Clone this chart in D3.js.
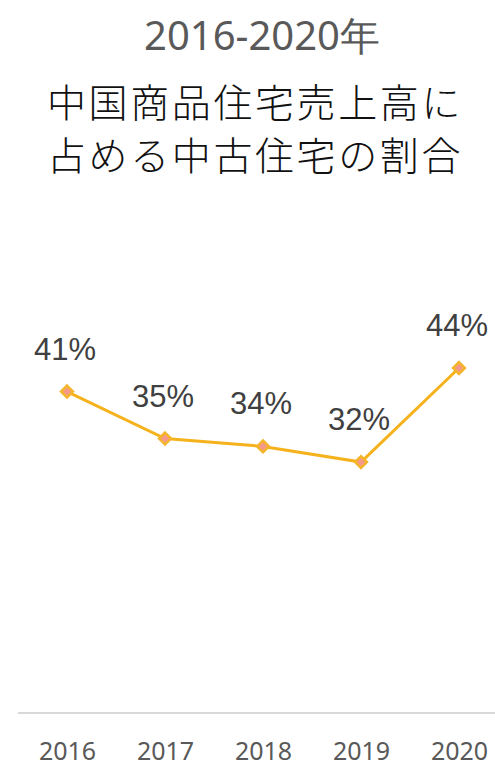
<!DOCTYPE html>
<html>
<head>
<meta charset="utf-8">
<script src="https://cdn.jsdelivr.net/npm/d3@7"></script>
<style>
  html, body { margin: 0; padding: 0; background: #fff; }
  svg { display: block; }
</style>
</head>
<body>
<div id="chart"></div>
<script>
// data
var years = ['2016', '2017', '2018', '2019', '2020'];
var shares = [41, 35, 34, 32, 44];
var subtitle = '2016-2020年';
var titleLines = ['中国商品住宅売上高に', '占める中古住宅の割合'];

var WIDTH = 495, HEIGHT = 769;

var svg = d3.select('#chart').append('svg')
    .attr('width', WIDTH)
    .attr('height', HEIGHT);

// titles
svg.append('text')
    .attr('x', 262).attr('y', 50)
    .attr('text-anchor', 'middle')
    .style('font-family', '"Noto Sans", "Open Sans", sans-serif')
    .style('font-size', '40px')
    .style('fill', '#595959')
    .text(subtitle);

svg.selectAll('text.title')
    .data(titleLines).enter()
    .append('text')
    .attr('class', 'title')
    .attr('x', 255)
    .attr('y', function(d, i) { return 117 + i * 53; })
    .attr('text-anchor', 'middle')
    .style('font-family', '"Noto Sans CJK JP", "Noto Sans CJK SC", sans-serif')
    .style('font-weight', 300)
    .style('font-size', '39px')
    .style('letter-spacing', '2.6px')
    .style('fill', '#111')
    .text(function(d) { return d; });

// scales
var x = d3.scalePoint()
    .domain(years)
    .range([67, 459]);

var y = d3.scaleLinear()
    .domain([0, 44])
    .range([713, 368]);

// x axis
var xAxis = svg.append('g')
    .attr('transform', 'translate(0,713)')
    .call(d3.axisBottom(x).tickSize(0).tickPadding(29));

xAxis.select('.domain').remove();
xAxis.append('line')
    .attr('x1', 18).attr('x2', WIDTH)
    .attr('y1', 0).attr('y2', 0)
    .attr('stroke', '#d9d9d9')
    .attr('stroke-width', 2);
xAxis.selectAll('text')
    .style('font-family', '"Noto Sans", "Open Sans", sans-serif')
    .style('font-size', '25px')
    .style('fill', '#595959');

// line
var line = d3.line()
    .x(function(d, i) { return x(years[i]); })
    .y(function(d) { return y(d); });

svg.append('path')
    .datum(shares)
    .attr('d', line)
    .attr('fill', 'none')
    .attr('stroke', '#f5b21c')
    .attr('stroke-width', 3);

// diamond markers
svg.selectAll('path.marker')
    .data(shares).enter()
    .append('path')
    .attr('class', 'marker')
    .attr('d', d3.symbol().type(d3.symbolDiamond2).size(90))
    .attr('transform', function(d, i) { return 'translate(' + x(years[i]) + ',' + y(d) + ')'; })
    .attr('fill', '#f59a8a')
    .attr('stroke', '#f5b52a')
    .attr('stroke-width', 2.5);

// value labels
svg.selectAll('text.value')
    .data(shares).enter()
    .append('text')
    .attr('class', 'value')
    .attr('x', function(d, i) { return x(years[i]) - 2; })
    .attr('y', function(d) { return y(d) - 32; })
    .attr('text-anchor', 'middle')
    .style('font-family', '"Liberation Sans", Arial, sans-serif')
    .style('font-size', '31px')
    .style('fill', '#404040')
    .text(function(d) { return d + '%'; });
</script>
</body>
</html>
